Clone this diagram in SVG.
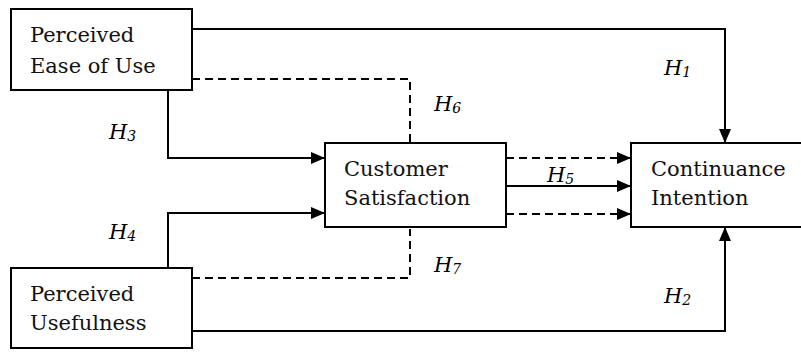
<svg xmlns="http://www.w3.org/2000/svg" width="801" height="352" viewBox="0 0 801 352">
<style>
.box{fill:#fff;stroke:#000;stroke-width:2}
.t{font-family:"DejaVu Serif",serif;font-size:21px;fill:#111}
.lbl{font-family:"DejaVu Serif",serif;font-style:italic;font-size:21px;fill:#000}
.sub{font-size:14px}
.c{fill:none;stroke:#000;stroke-width:2}
.d{stroke-dasharray:8 5}
</style>
<defs>
<marker id="ah" markerUnits="userSpaceOnUse" markerWidth="14" markerHeight="14" viewBox="0 0 14 12" refX="14" refY="6" orient="auto">
<path d="M0,0 L14,6 L0,12 Z" fill="#000"/>
</marker>
</defs>
<rect width="801" height="352" fill="#fff"/>
<g id="connectors">
<path class="c" d="M192,29 H725 V143" marker-end="url(#ah)"/>
<path class="c d" d="M192,79 H410 V143"/>
<path class="c" d="M168,90 V158 H325" marker-end="url(#ah)"/>
<path class="c" d="M168,268 V213 H325" marker-end="url(#ah)"/>
<path class="c d" d="M192,278 H410 V229"/>
<path class="c" d="M192,331 H725 V227" marker-end="url(#ah)"/>
<path class="c d" d="M506,158 H631" marker-end="url(#ah)"/>
<path class="c" d="M506,186 H631" marker-end="url(#ah)"/>
<path class="c d" d="M506,214 H631" marker-end="url(#ah)"/>
</g>
<g id="labels">
<text class="lbl" x="664" y="75">H<tspan class="sub" dy="2">1</tspan></text>
<text class="lbl" x="664" y="303">H<tspan class="sub" dy="2">2</tspan></text>
<text class="lbl" x="109" y="139">H<tspan class="sub" dy="2">3</tspan></text>
<text class="lbl" x="109" y="239">H<tspan class="sub" dy="2">4</tspan></text>
<text class="lbl" x="547" y="182">H<tspan class="sub" dy="2">5</tspan></text>
<text class="lbl" x="434" y="111">H<tspan class="sub" dy="2">6</tspan></text>
<text class="lbl" x="434" y="272">H<tspan class="sub" dy="2">7</tspan></text>
</g>
<g id="peu">
<rect class="box" x="11" y="9" width="181" height="81"/>
<text class="t" x="30" y="42">Perceived</text>
<text class="t" x="30" y="73">Ease of Use</text>
</g>
<g id="pu">
<rect class="box" x="11" y="268" width="181" height="80"/>
<text class="t" x="30" y="301">Perceived</text>
<text class="t" x="30" y="330">Usefulness</text>
</g>
<g id="cs">
<rect class="box" x="325" y="143" width="181" height="84"/>
<text class="t" x="344" y="176">Customer</text>
<text class="t" x="344" y="205">Satisfaction</text>
</g>
<g id="ci">
<rect class="box" x="631" y="143" width="172" height="84"/>
<text class="t" x="651" y="176">Continuance</text>
<text class="t" x="651" y="205">Intention</text>
</g>
</svg>
